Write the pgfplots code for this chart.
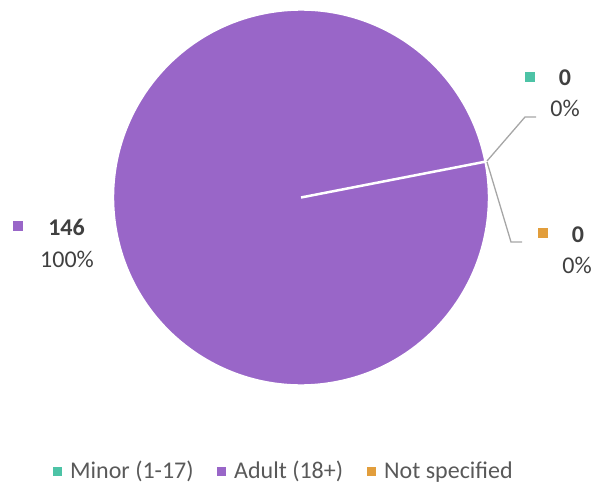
\documentclass[border=0pt]{standalone}
\usepackage{pgfplots}
\pgfplotsset{compat=1.18}
\usepackage{pgfplotstable}
\usepackage{fontspec}
\setmainfont{Carlito}
\definecolor{cMinor}{HTML}{4DC3A6}
\definecolor{cAdult}{HTML}{9966C8}
\definecolor{cNot}{HTML}{E29E3C}
\definecolor{lbl}{HTML}{404040}
\definecolor{leg}{HTML}{595959}
\definecolor{lead}{HTML}{A6A6A6}
\newcommand\lf{\fontsize{24bp}{28bp}\selectfont}
\pgfplotstableread{
cat value
Minor 0
Adult 146
Not 0
}\piedata
\begin{document}
\begin{tikzpicture}
\pgfplotstablegetelem{0}{value}\of\piedata \let\vA\pgfplotsretval
\pgfplotstablegetelem{1}{value}\of\piedata \let\vB\pgfplotsretval
\pgfplotstablegetelem{2}{value}\of\piedata \let\vC\pgfplotsretval
\pgfmathsetmacro\tot{\vA+\vB+\vC}
\pgfmathsetmacro\fA{\vA/\tot}
\pgfmathsetmacro\fB{\vB/\tot}
\pgfmathsetmacro\fC{\vC/\tot}
\pgfmathsetmacro\sB{11-360*\fA}
\pgfmathsetmacro\eB{\sB-360*\fB}
\pgfmathtruncatemacro\pA{round(100*\fA)}
\pgfmathtruncatemacro\pB{round(100*\fB)}
\pgfmathtruncatemacro\pC{round(100*\fC)}
\begin{axis}[scale only axis, width=593bp, height=484bp,
  xmin=0, xmax=593, ymin=0, ymax=484, y dir=reverse,
  hide axis, clip=false]
\fill[cAdult, draw=white, line width=2.5bp] (axis cs:301,197.5) -- ++(\sB:188bp)
  arc[start angle=\sB, end angle=\eB, radius=188bp] -- cycle;
% leader lines
\draw[lead, line width=1.3bp] (axis cs:487,161) -- (axis cs:525,117) -- (axis cs:536,117);
\draw[lead, line width=1.3bp] (axis cs:487,162) -- (axis cs:511,242) -- (axis cs:522,242);
% data labels
\fill[cAdult] (axis cs:13,221) rectangle (axis cs:23,231);
\node[lbl, anchor=base, inner sep=0pt, font=\lf\bfseries] at (axis cs:66.5,235) {\vB};
\node[lbl, anchor=base, inner sep=0pt, font=\lf] at (axis cs:67,267.5) {\pB\%};
\fill[cMinor] (axis cs:524.5,72) rectangle (axis cs:534.5,82);
\node[lbl, anchor=base, inner sep=0pt, font=\lf\bfseries] at (axis cs:565,85.5) {\vA};
\node[lbl, anchor=base, inner sep=0pt, font=\lf] at (axis cs:565,116.5) {\pA\%};
\fill[cNot] (axis cs:537.5,228) rectangle (axis cs:547.5,238);
\node[lbl, anchor=base, inner sep=0pt, font=\lf\bfseries] at (axis cs:578,242.5) {\vC};
\node[lbl, anchor=base, inner sep=0pt, font=\lf] at (axis cs:577,273) {\pC\%};
% legend
\fill[cMinor] (axis cs:52.5,466.5) rectangle (axis cs:61.5,476);
\node[leg, anchor=base west, inner sep=0pt, font=\lf] at (axis cs:70,478) {Minor (1-17)};
\fill[cAdult] (axis cs:216.5,466.5) rectangle (axis cs:225.5,476);
\node[leg, anchor=base west, inner sep=0pt, font=\lf] at (axis cs:234,478) {Adult (18+)};
\fill[cNot] (axis cs:367,466.5) rectangle (axis cs:376,476);
\node[leg, anchor=base west, inner sep=0pt, font=\lf] at (axis cs:384,478) {Not specified};
\end{axis}
\pgfresetboundingbox
\path[use as bounding box] (current axis.south west) rectangle (current axis.north east);
\end{tikzpicture}
\end{document}
